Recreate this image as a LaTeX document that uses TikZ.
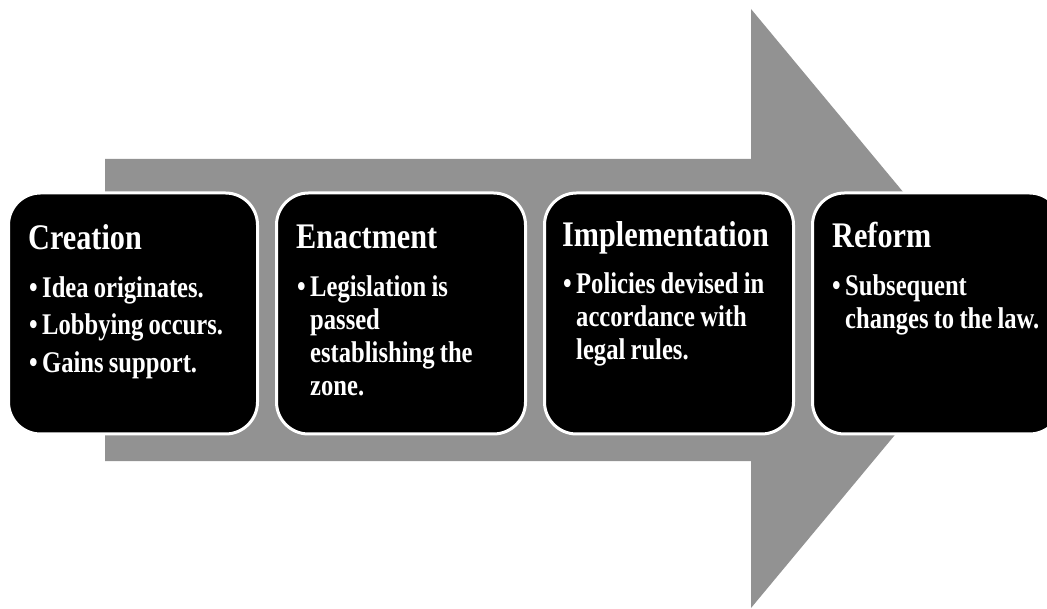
\documentclass[tikz,border=0pt]{standalone}
\usepackage{fontspec}
\newfontfamily\headfont{Liberation Serif}[FakeStretch=0.84, WordSpace=0.8]
\newfontfamily\itemfont{Liberation Serif}[FakeStretch=0.82, WordSpace=0.85]
\definecolor{arrowgray}{RGB}{146,146,146}
% bullet column of the stage texts
\newcommand\bul{\makebox[13pt][l]{\textbullet}}

\begin{document}
\begin{tikzpicture}[x=1pt, y=-1pt,
    stage/.style={draw=white, line width=3pt, fill=black, rounded corners=32pt,
        minimum width=249pt, minimum height=241pt, inner sep=0pt},
    head/.style={white, anchor=base west, inner sep=0pt,
        font=\headfont\bfseries\fontsize{36}{40}\selectfont},
    items/.style={white, anchor=base west, inner sep=0pt,
        font=\itemfont\bfseries\fontsize{30}{33}\selectfont}]
    \useasboundingbox (0,0) rectangle (1047,609);
    % big arrow behind the stages
    \fill[arrowgray] (105,159) -- (751,159) -- (751,9) -- (1000,308.5)
        -- (751,608) -- (751,461) -- (105,461) -- cycle;
    % the four stages
    \node[stage] (creation)       at (133,313.5) {};
    \node[stage] (enactment)      at (401,313.5) {};
    \node[stage] (implementation) at (669,313.5) {};
    \node[stage] (reform)         at (937,313.5) {};
    % Creation
    \node[head]  (creation-head) at ([shift={(21,58)}]creation.north west) {Creation};
    \node[items] (creation-txt)  at ([shift={(22,106)}]creation.north west)
        {\begin{tabular}[t]{@{}l@{}l@{}}
            \bul & Idea originates.\\[4.5pt]
            \bul & Lobbying occurs.\\[4.5pt]
            \bul & Gains support.
        \end{tabular}};
    % Enactment
    \node[head]  (enactment-head) at ([shift={(21,57)}]enactment.north west) {Enactment};
    \node[items] (enactment-txt)  at ([shift={(22,105)}]enactment.north west)
        {\begin{tabular}[t]{@{}l@{}l@{}}
            \bul & Legislation is\\
                 & passed\\
                 & establishing the\\
                 & zone.
        \end{tabular}};
    % Implementation
    \node[head]  (implementation-head) at ([shift={(19,55)}]implementation.north west) {Implementation};
    \node[items] (implementation-txt)  at ([shift={(20,102)}]implementation.north west)
        {\begin{tabular}[t]{@{}l@{}l@{}}
            \bul & Policies devised in\\
                 & accordance with\\
                 & legal rules.
        \end{tabular}};
    % Reform
    \node[head]  (reform-head) at ([shift={(21,56)}]reform.north west) {Reform};
    \node[items] (reform-txt)  at ([shift={(21,104)}]reform.north west)
        {\begin{tabular}[t]{@{}l@{}l@{}}
            \bul & Subsequent\\
                 & changes to the law.
        \end{tabular}};
\end{tikzpicture}
\end{document}
